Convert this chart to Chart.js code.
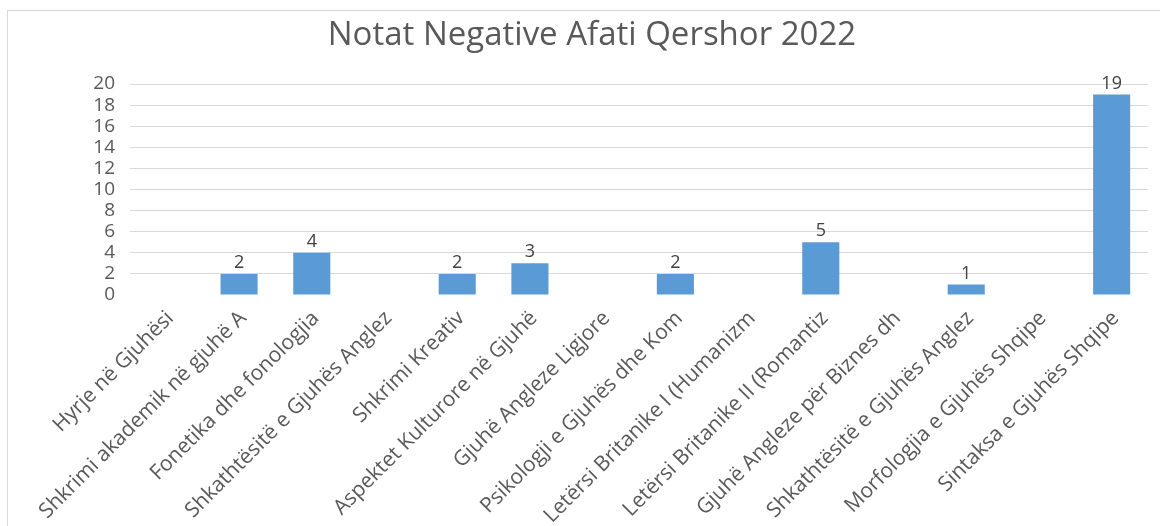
<!DOCTYPE html>
<html>
<head>
<meta charset="utf-8">
<title>Notat Negative Afati Qershor 2022</title>
<script src="https://cdn.jsdelivr.net/npm/chart.js@4/dist/chart.umd.min.js"></script>
<style>
  html, body { margin: 0; padding: 0; background: #fff; overflow: hidden; }
  #frame {
    position: absolute;
    left: 7px;
    top: 10px;
    width: 1168px;
    height: 530px;
    border: 1px solid #d9d9d9;
  }
  canvas { display: block; }
</style>
</head>
<body>
<div id="frame">
  <canvas id="mainChart" width="1168" height="530"></canvas>
</div>
<script>
// Dados do gráfico
const chartTitle = "Notat Negative Afati Qershor 2022";
const lendet = [
  "Hyrje në Gjuhësi",
  "Shkrimi akademik në gjuhë A",
  "Fonetika dhe fonologjia",
  "Shkathtësitë e Gjuhës Anglez",
  "Shkrimi Kreativ",
  "Aspektet Kulturore në Gjuhë",
  "Gjuhë Angleze Ligjore",
  "Psikologji e Gjuhës dhe Kom",
  "Letërsi Britanike I (Humanizm",
  "Letërsi Britanike II (Romantiz",
  "Gjuhë Angleze për Biznes dh",
  "Shkathtësitë e Gjuhës Anglez",
  "Morfologjia e Gjuhës Shqipe",
  "Sintaksa e Gjuhës Shqipe"
];
const notatNegative = [0, 2, 4, 0, 2, 3, 0, 2, 0, 5, 0, 1, 0, 19];
const yMin = 0;
const yMax = 20;
const yStep = 2;

const FONT = "'Open Sans', 'DejaVu Sans', sans-serif";

// plugin simples para os valores em cima das barras
const valueLabels = {
  id: "valueLabels",
  afterDatasetsDraw(chart) {
    const ctx = chart.ctx;
    const meta = chart.getDatasetMeta(0);
    ctx.save();
    ctx.font = "18px " + FONT;
    ctx.fillStyle = "#404040";
    ctx.textAlign = "center";
    ctx.textBaseline = "bottom";
    meta.data.forEach((bar, i) => {
      const v = chart.data.datasets[0].data[i];
      if (!v) return;
      ctx.fillText(String(v), bar.x, bar.y - 2);
    });
    ctx.restore();
  }
};

const ctx = document.getElementById("mainChart").getContext("2d");
const chartInstance = new Chart(ctx, {
  type: "bar",
  data: {
    labels: lendet,
    datasets: [
      {
        data: notatNegative,
        backgroundColor: "#5b9bd5",
        borderWidth: 0,
        barPercentage: 0.51,
        categoryPercentage: 1.0
      }
    ]
  },
  options: {
    responsive: false,
    animation: false,
    // padding igual dos dois lados para o título ficar centrado no quadro
    layout: { padding: { left: 28, right: 28, top: 0, bottom: 0 } },
    plugins: {
      legend: { display: false },
      tooltip: { enabled: false },
      title: {
        display: true,
        text: chartTitle,
        color: "#595959",
        font: { family: FONT, size: 33, weight: "normal" },
        padding: { top: 5, bottom: 28.4 }
      }
    },
    scales: {
      x: {
        grid: { display: false, drawTicks: false },
        border: { display: false },
        ticks: {
          color: "#595959",
          font: { family: FONT, size: 21 },
          maxRotation: 45,
          minRotation: 45,
          autoSkip: false,
          padding: 11,
          labelOffset: 4
        },
        afterFit(scale) {
          scale.height = 530 - 284;
        }
      },
      y: {
        min: yMin,
        max: yMax,
        grid: {
          color: (c) => (c.tick && c.tick.value === 0 ? "rgba(0,0,0,0)" : "#d9d9d9"),
          lineWidth: 1,
          drawTicks: false
        },
        border: { display: false },
        ticks: {
          stepSize: yStep,
          autoSkip: false,
          color: "#595959",
          font: { family: FONT, size: 19, lineHeight: 1 },
          padding: 15
        },
        afterFit(scale) {
          scale.width = 94;
        }
      }
    }
  },
  plugins: [valueLabels]
});
</script>
</body>
</html>
